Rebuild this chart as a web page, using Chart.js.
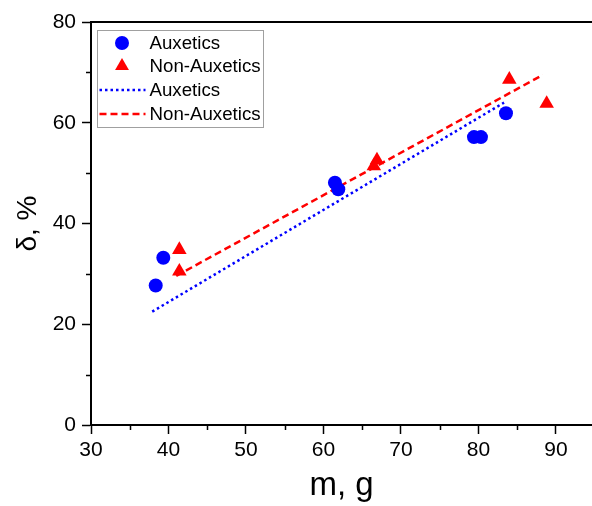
<!DOCTYPE html>
<html>
<head>
<meta charset="utf-8">
<script src="https://cdn.jsdelivr.net/npm/chart.js@4.4.1/dist/chart.umd.min.js"></script>
<style>
  html, body { margin: 0; padding: 0; background: #fff; }
  #wrap { width: 592px; height: 506px; }
</style>
</head>
<body>
<div id="wrap"><canvas id="chart" width="592" height="506"></canvas></div>
<script>
// values
const auxMass = [38.35, 39.33, 61.48, 61.91, 79.42, 80.32, 83.55];
const auxDelta = [27.7, 33.2, 48.1, 46.8, 57.15, 57.15, 61.9];

const nonAuxMass = [41.4, 41.4, 66.5, 66.9, 83.98, 88.8];
const nonAuxDelta = [34.8, 30.5, 51.4, 52.6, 68.6, 63.8];

// fitted lines (end points)
const auxFitMass = [37.9, 83.3];
const auxFitDelta = [22.5, 64.0];
const nonAuxFitMass = [41.0, 88.3];
const nonAuxFitDelta = [29.6, 69.5];

const xTicks = [30, 40, 50, 60, 70, 80, 90];
const yTicks = [0, 20, 40, 60, 80];

const legendLabels = ["Auxetics", "Non-Auxetics", "Auxetics", "Non-Auxetics"];

const BLUE = "#0000ff";
const RED = "#ff0000";
const FONT = "'Liberation Sans', Arial, sans-serif";

function toPoints(xs, ys) {
  return xs.map((x, i) => ({ x: x, y: ys[i] }));
}

// short minor ticks + top frame line
const framePlugin = {
  id: "frame",
  afterDraw(chart) {
    const ctx = chart.ctx;
    const a = chart.chartArea;
    ctx.save();
    ctx.strokeStyle = "#000";
    ctx.lineWidth = 2;
    ctx.beginPath();
    ctx.moveTo(a.left - 1, a.top);
    ctx.lineTo(a.right, a.top);
    ctx.stroke();

    const xs = chart.scales.x, ys = chart.scales.y;
    ctx.lineWidth = 1.5;
    ctx.beginPath();
    for (let v = 35; v <= 95; v += 10) {
      const px = Math.round(xs.getPixelForValue(v)) + 0.5;
      ctx.moveTo(px, a.bottom);
      ctx.lineTo(px, a.bottom + 5);
    }
    for (let v = 10; v <= 70; v += 20) {
      const py = Math.round(ys.getPixelForValue(v)) + 0.5;
      ctx.moveTo(a.left, py);
      ctx.lineTo(a.left - 5, py);
    }
    ctx.stroke();
    ctx.restore();
  }
};

// legend box in the top left corner of the plot
const legendPlugin = {
  id: "boxLegend",
  afterDraw(chart) {
    const ctx = chart.ctx;
    const a = chart.chartArea;
    const bx = a.left + 6.5, by = a.top + 8.5;
    const rows = [by + 12.5, by + 35.5, by + 59.5, by + 83.5];
    const symX = bx + 24.5;
    ctx.save();
    ctx.strokeStyle = "#a0a0a0";
    ctx.lineWidth = 1;
    ctx.strokeRect(bx, by, 166, 97);

    // circle
    ctx.fillStyle = BLUE;
    ctx.beginPath();
    ctx.arc(symX, rows[0], 7, 0, Math.PI * 2);
    ctx.fill();
    // triangle
    ctx.fillStyle = RED;
    const r = 8;
    ctx.beginPath();
    ctx.moveTo(symX, rows[1] - r);
    ctx.lineTo(symX + r * Math.sin(2 * Math.PI / 3), rows[1] + r / 2);
    ctx.lineTo(symX - r * Math.sin(2 * Math.PI / 3), rows[1] + r / 2);
    ctx.closePath();
    ctx.fill();
    // dotted line
    ctx.lineWidth = 2.5;
    ctx.strokeStyle = BLUE;
    ctx.setLineDash([2.5, 3]);
    ctx.beginPath();
    ctx.moveTo(bx + 2, rows[2]);
    ctx.lineTo(bx + 48, rows[2]);
    ctx.stroke();
    // dashed line
    ctx.strokeStyle = RED;
    ctx.setLineDash([7, 4]);
    ctx.beginPath();
    ctx.moveTo(bx + 2, rows[3]);
    ctx.lineTo(bx + 48, rows[3]);
    ctx.stroke();
    ctx.setLineDash([]);

    ctx.fillStyle = "#000";
    ctx.font = "18.7px " + FONT;
    ctx.textBaseline = "middle";
    ctx.textAlign = "left";
    legendLabels.forEach((t, i) => ctx.fillText(t, bx + 52, rows[i] + 1));
    ctx.restore();
  }
};

const chart = new Chart(document.getElementById("chart"), {
  type: "scatter",
  data: {
    datasets: [
      {
        label: "Auxetics",
        data: toPoints(auxMass, auxDelta),
        backgroundColor: BLUE,
        borderColor: BLUE,
        pointStyle: "circle",
        pointRadius: 7,
        borderWidth: 0,
        order: 1
      },
      {
        label: "Non-Auxetics",
        data: toPoints(nonAuxMass, nonAuxDelta),
        backgroundColor: RED,
        borderColor: RED,
        pointStyle: "triangle",
        pointRadius: 8.4,
        borderWidth: 0,
        order: 1
      },
      {
        label: "Auxetics",
        type: "line",
        data: toPoints(auxFitMass, auxFitDelta),
        borderColor: BLUE,
        borderWidth: 2.5,
        borderDash: [2.5, 3],
        pointRadius: 0,
        fill: false,
        order: 2
      },
      {
        label: "Non-Auxetics",
        type: "line",
        data: toPoints(nonAuxFitMass, nonAuxFitDelta),
        borderColor: RED,
        borderWidth: 2.5,
        borderDash: [7, 4],
        pointRadius: 0,
        fill: false,
        order: 2
      }
    ]
  },
  options: {
    responsive: false,
    animation: false,
    layout: { autoPadding: false, padding: { top: 22, right: 0, left: 0, bottom: 0 } },
    plugins: {
      legend: { display: false },
      tooltip: { enabled: false }
    },
    scales: {
      x: {
        type: "linear",
        min: 30,
        max: 94.65,
        afterBuildTicks: (s) => { s.ticks = xTicks.map(v => ({ value: v })); },
        afterFit: (s) => { s.height = 81; s.paddingLeft = 0; s.paddingRight = 0; },
        ticks: {
          color: "#000",
          font: { family: FONT, size: 21 },
          padding: 4,
          maxRotation: 0,
          autoSkip: false
        },
        grid: {
          drawOnChartArea: false,
          drawTicks: true,
          tickLength: 9,
          tickWidth: 1.5,
          tickColor: "#000"
        },
        border: { color: "#000", width: 2 },
        title: {
          display: true,
          text: "m, g",
          color: "#000",
          font: { family: FONT, size: 33 },
          padding: { top: 0, bottom: 0 }
        }
      },
      y: {
        type: "linear",
        min: 0,
        max: 80,
        afterBuildTicks: (s) => { s.ticks = yTicks.map(v => ({ value: v })); },
        afterFit: (s) => { s.width = 91; },
        ticks: {
          color: "#000",
          font: { family: FONT, size: 21 },
          padding: 6
        },
        grid: {
          drawOnChartArea: false,
          drawTicks: true,
          tickLength: 9,
          tickWidth: 1.5,
          tickColor: "#000"
        },
        border: { color: "#000", width: 2 },
        title: {
          display: true,
          text: "δ, %",
          color: "#000",
          font: { family: FONT, size: 28 },
          padding: { top: 11, bottom: 0 }
        }
      }
    }
  },
  plugins: [framePlugin, legendPlugin]
});
</script>
</body>
</html>
